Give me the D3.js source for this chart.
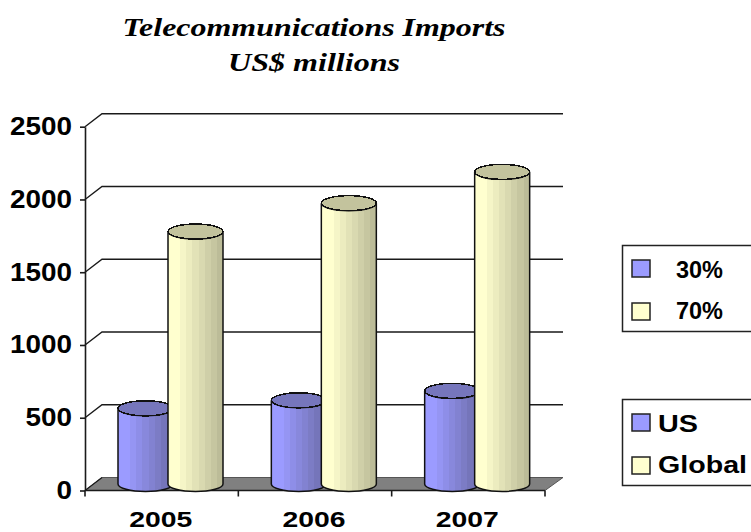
<!DOCTYPE html>
<html>
<head>
<meta charset="utf-8">
<script src="https://cdnjs.cloudflare.com/ajax/libs/d3/7.8.5/d3.min.js"></script>
<style>
  html, body { margin: 0; padding: 0; background: #fff; overflow: hidden; }
  svg { display: block; }
  text { fill: #000; }
  .sans { font-family: "Liberation Sans", Arial, sans-serif; font-weight: 700; }
  .serif { font-family: "Liberation Serif", "Times New Roman", serif; font-weight: 700; font-style: italic; }
</style>
</head>
<body>
<svg id="chart" width="751" height="532"></svg>
<script>
// Chart data
const years = ["2005", "2006", "2007"];
const seriesNames = ["US", "Global"];
const usValues = [520, 575, 640];
const globalValues = [1735, 1930, 2145];
const yTicks = [0, 500, 1000, 1500, 2000, 2500];
const titleLines = ["Telecommunications Imports", "US$ millions"];
const shareLabels = ["30%", "70%"];

const svg = d3.select("#chart");

// Front plane of the 3D box and the depth offset to its back wall
const frontLeft = 85, frontRight = 545, frontBase = 490.5, frontTop = 126.7;
const depthX = 17, depthY = -13;

const x = d3.scaleBand().domain(years).range([frontLeft, frontRight]);
const y = d3.scaleLinear().domain([0, 2500]).range([frontBase, frontTop]);
const seriesX = d3.scaleBand().domain(seriesNames).range([33, 133]);

const palette = {
  US: { light: "#9b9bff", dark: "#6f6fae", top: "#7676bc" },
  Global: { light: "#ffffcf", dark: "#bcbc98", top: "#c3c39d" }
};

// Banded horizontal shading for the cylinder walls
const defs = svg.append("defs");
seriesNames.forEach(name => {
  const c = palette[name];
  const shade = d3.interpolateRgb(c.light, c.dark);
  const grad = defs.append("linearGradient")
    .attr("id", "wall-" + name).attr("x1", 0).attr("x2", 1).attr("y1", 0).attr("y2", 0);
  const bands = 9;
  d3.range(bands).forEach(i => {
    const col = shade(Math.max(0, i - 1) / (bands - 2));
    grad.append("stop").attr("offset", i / bands).attr("stop-color", col);
    grad.append("stop").attr("offset", (i + 1) / bands).attr("stop-color", col);
  });
});

const lineColor = "#1a1a1a";

// Floor of the box
svg.append("path")
  .attr("d", d3.line()([
    [frontLeft, y(0)], [frontLeft + depthX, y(0) + depthY],
    [frontRight + depthX + 1, y(0) + depthY], [frontRight, y(0)]
  ]) + "Z")
  .attr("fill", "#808080").attr("stroke", "#555").attr("stroke-width", 1);

// Gridlines on the back wall, with the side-wall step back to the axis
const gridTicks = yTicks.filter(t => t > 0);
svg.append("g").selectAll("path").data(gridTicks).join("path")
  .attr("d", t => d3.line()([
    [frontLeft, y(t)], [frontLeft + depthX, y(t) + depthY], [frontRight + depthX + 1, y(t) + depthY]
  ]))
  .attr("fill", "none").attr("stroke", lineColor).attr("stroke-width", 1.4);
svg.append("path")
  .attr("d", d3.line()([[frontLeft, y(0)], [frontLeft + depthX, y(0) + depthY]]))
  .attr("stroke", lineColor).attr("stroke-width", 1.2);

// Value axis
const yAxis = d3.axisLeft(y).tickValues(yTicks).tickFormat(d3.format("d"))
  .tickSize(5).tickPadding(8).tickSizeOuter(0);
const yG = svg.append("g").attr("transform", `translate(${frontLeft},0)`).call(yAxis);
yG.selectAll("path,line").attr("stroke", lineColor).attr("stroke-width", 1.6);
yG.selectAll("text").attr("class", "sans").style("font-size", "25px").style("fill", "#000")
  .attr("textLength", d => String(d).length * 15.5).attr("lengthAdjust", "spacingAndGlyphs");

// Category axis: baseline and boundary ticks
const boundaries = years.map(v => x(v)).concat(frontRight);
svg.append("path")
  .attr("d", d3.line()([[frontLeft, frontBase], [frontRight, frontBase]]))
  .attr("stroke", lineColor).attr("stroke-width", 1.6);
svg.append("g").selectAll("line").data(boundaries).join("line")
  .attr("x1", d => d).attr("x2", d => d)
  .attr("y1", frontBase).attr("y2", frontBase + 6)
  .attr("stroke", lineColor).attr("stroke-width", 1.6);
svg.append("g").selectAll("text").data(years).join("text")
  .attr("class", "sans")
  .attr("x", d => x(d) + x.bandwidth() / 2 - 1)
  .attr("y", 527)
  .attr("text-anchor", "middle")
  .attr("textLength", 63).attr("lengthAdjust", "spacingAndGlyphs")
  .style("font-size", "22px")
  .text(d => d);

// Cylinders, drawn series by series inside each year so Global overlaps US
const rx = 27.5, ry = 7.5;
const baseShift = depthY / 2;
const rows = years.flatMap((yr, i) => [
  { year: yr, series: "US", value: usValues[i] },
  { year: yr, series: "Global", value: globalValues[i] }
]);
const cyl = svg.append("g").selectAll("g").data(rows).join("g")
  .attr("transform", d => `translate(${x(d.year) + seriesX(d.series)},0)`);

cyl.append("path")
  .attr("d", d => {
    const top = y(d.value) + baseShift, base = y(0) + baseShift;
    return `M0,${top}V${base}A${rx},${ry} 0 0 0 ${2 * rx},${base}V${top}A${rx},${ry} 0 0 1 0,${top}Z`;
  })
  .attr("fill", d => `url(#wall-${d.series})`)
  .attr("stroke", "#111").attr("stroke-width", 1.5);

cyl.append("ellipse")
  .attr("cx", rx).attr("cy", d => y(d.value) + baseShift)
  .attr("rx", rx).attr("ry", ry)
  .attr("fill", d => palette[d.series].top)
  .attr("stroke", "#111").attr("stroke-width", 1.5)
  .attr("shape-rendering", "crispEdges");

// Title
svg.append("g").selectAll("text").data(titleLines).join("text")
  .attr("class", "serif")
  .attr("x", 314)
  .attr("y", (d, i) => 36 + i * 35)
  .attr("text-anchor", "middle")
  .attr("textLength", (d, i) => i === 0 ? 383 : 172)
  .attr("lengthAdjust", "spacingAndGlyphs")
  .style("font-size", "26px")
  .text(d => d);

// Legend boxes: the boxes run off the right edge of the canvas
function legendBox(top, labels, textX, textW) {
  const swatchY = [15, 58];
  const textY = [33, 73.5];
  const g = svg.append("g").attr("transform", `translate(622,${top})`);
  g.append("rect").attr("x", 0.5).attr("y", 0.5).attr("width", 140).attr("height", 86)
    .attr("fill", "#fff").attr("stroke", "#222").attr("stroke-width", 1.5);
  labels.forEach((label, i) => {
    g.append("rect").attr("x", 10).attr("y", swatchY[i]).attr("width", 18).attr("height", 17)
      .attr("fill", palette[seriesNames[i]].light).attr("stroke", "#222").attr("stroke-width", 1.5);
    g.append("text").attr("class", "sans")
      .attr("x", textX).attr("y", textY[i])
      .attr("textLength", textW[i]).attr("lengthAdjust", "spacingAndGlyphs")
      .style("font-size", "24px")
      .text(label);
  });
}
legendBox(245, shareLabels, 54, [47, 47]);
legendBox(399, seriesNames, 36, [40, 89]);
</script>
</body>
</html>
